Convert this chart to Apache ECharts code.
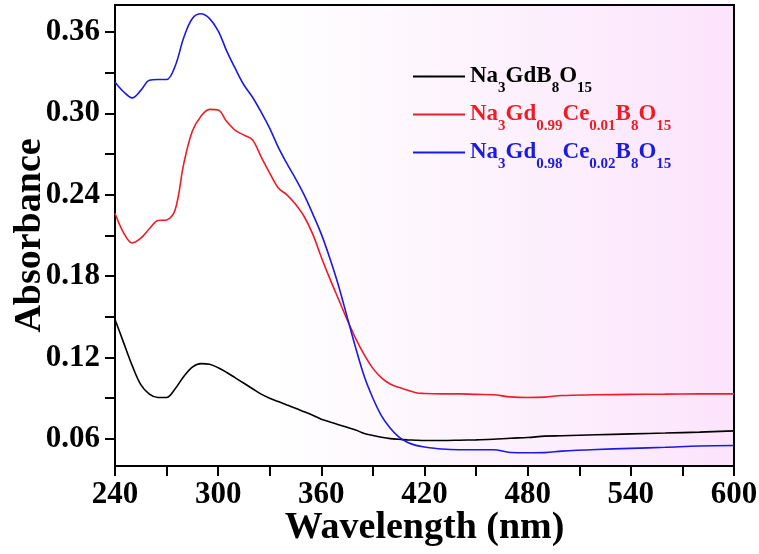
<!DOCTYPE html>
<html>
<head>
<meta charset="utf-8">
<script src="https://cdn.jsdelivr.net/npm/echarts@6/dist/echarts.min.js"></script>
<style>
  html, body { margin: 0; padding: 0; background: #fff; }
  #chart-container { width: 759px; height: 554px; }
</style>
</head>
<body>
<div id="chart-container"></div>
<script>
// wavelength (nm)
var wavelengths = [240, 245, 250, 255, 260, 265, 270, 275, 280, 285, 290, 295, 300, 305, 310, 315, 320, 325, 330, 335,
    340, 345, 350, 355, 360, 365, 370, 375, 380, 385, 390, 395, 400, 405, 410, 415, 420, 430, 440, 450,
    460, 470, 480, 490, 500, 520, 540, 560, 580, 600];

var absBase = [0.148, 0.131, 0.114, 0.100, 0.093, 0.0905, 0.0905, 0.097, 0.106, 0.113, 0.1155, 0.115, 0.1125, 0.109, 0.105, 0.101, 0.097, 0.093, 0.090, 0.0875,
    0.085, 0.0826, 0.080, 0.0775, 0.0745, 0.0725, 0.0705, 0.0685, 0.0665, 0.064, 0.0625, 0.0612, 0.0602, 0.0597, 0.0593, 0.059, 0.0588, 0.0588, 0.059, 0.0593,
    0.0597, 0.0605, 0.061, 0.062, 0.0623, 0.063, 0.0637, 0.0643, 0.065, 0.0659];

var absCe001 = [0.2264, 0.212, 0.2045, 0.208, 0.215, 0.221, 0.2214, 0.229, 0.263, 0.287, 0.298, 0.303, 0.3025, 0.294, 0.2875, 0.284, 0.2805, 0.268, 0.256, 0.245,
    0.240, 0.233, 0.224, 0.211, 0.194, 0.178, 0.163, 0.148, 0.134, 0.122, 0.112, 0.105, 0.1005, 0.098, 0.096, 0.094, 0.0935, 0.0932, 0.0932, 0.0928,
    0.0925, 0.091, 0.0905, 0.0908, 0.092, 0.0925, 0.0928, 0.093, 0.0932, 0.0932];

var absCe002 = [0.323, 0.316, 0.3115, 0.317, 0.3245, 0.325, 0.325, 0.335, 0.356, 0.370, 0.3735, 0.370, 0.361, 0.346, 0.333, 0.321, 0.312, 0.301, 0.289, 0.275,
    0.263, 0.252, 0.240, 0.226, 0.211, 0.193, 0.173, 0.150, 0.127, 0.106, 0.090, 0.077, 0.068, 0.0615, 0.0575, 0.0552, 0.054, 0.0525, 0.052, 0.052,
    0.052, 0.050, 0.0498, 0.0499, 0.051, 0.0522, 0.053, 0.0538, 0.0548, 0.0551];

var seriesNames = ['Na3GdB8O15', 'Na3Gd0.99Ce0.01B8O15', 'Na3Gd0.98Ce0.02B8O15'];
// legend labels as [text, subscript] pieces
var legendParts = [
    [['Na', '3'], ['GdB', '8'], ['O', '15']],
    [['Na', '3'], ['Gd', '0.99'], ['Ce', '0.01'], ['B', '8'], ['O', '15']],
    [['Na', '3'], ['Gd', '0.98'], ['Ce', '0.02'], ['B', '8'], ['O', '15']]
];
var seriesColors = ['#000000', '#ee1c24', '#1a1ae0'];

var xTicks = [240, 270, 300, 330, 360, 390, 420, 450, 480, 510, 540, 570, 600];
var xLabels = [240, 300, 360, 420, 480, 540, 600];
var yTicks = [0.06, 0.09, 0.12, 0.15, 0.18, 0.21, 0.24, 0.27, 0.30, 0.33, 0.36];
var yLabels = [0.06, 0.12, 0.18, 0.24, 0.30, 0.36];

var FONT = '"Liberation Serif", "Times New Roman", serif';

var myChart = echarts.init(document.getElementById('chart-container'));

var pairs = function (ys) {
    return wavelengths.map(function (w, i) { return [w, ys[i]]; });
};

// subscripts: normal text centred in a 37px line, subscript pushed to the line bottom
var rich = {};
seriesColors.forEach(function (c, i) {
    rich['n' + i] = {
        color: c, fontFamily: FONT, fontWeight: 'bold', fontSize: 23,
        lineHeight: 37, verticalAlign: 'middle'
    };
    rich['s' + i] = {
        color: c, fontFamily: FONT, fontWeight: 'bold', fontSize: 15,
        lineHeight: 37, height: 13, verticalAlign: 'bottom'
    };
});

var allData = [absBase, absCe001, absCe002];
var series = [];
allData.forEach(function (ys, i) {
    series.push({
        name: seriesNames[i],
        type: 'line',
        data: pairs(ys),
        symbol: 'none',
        smooth: 0.35,
        lineStyle: { color: seriesColors[i], width: 1.6 },
        itemStyle: { color: seriesColors[i] }
    });
});

var option = {
    animation: false,
    textStyle: { fontFamily: FONT },
    grid: {
        left: 115, right: 25, top: 5, bottom: 88,
        outerBoundsMode: 'none',
        containLabel: false,
        show: true,
        borderColor: '#000',
        borderWidth: 2,
        backgroundColor: new echarts.graphic.LinearGradient(0, 0, 1, 0, [
            { offset: 0, color: '#ffffff' },
            { offset: 0.25, color: '#ffffff' },
            { offset: 0.5, color: '#fdf6fd' },
            { offset: 1, color: '#fce4fc' }
        ])
    },
    legend: {
        orient: 'vertical',
        left: 408,
        top: 60,
        itemGap: 7,
        itemWidth: 52,
        itemHeight: 2,
        icon: 'rect',
        data: seriesNames,
        formatter: function (name) {
            var i = seriesNames.indexOf(name);
            return legendParts[i].map(function (p) {
                return '{n' + i + '|' + p[0] + '}{s' + i + '|' + p[1] + '}';
            }).join('');
        },
        textStyle: { fontFamily: FONT, fontWeight: 'bold', fontSize: 23, rich: rich }
    },
    xAxis: {
        type: 'value',
        min: 240, max: 600,
        name: 'Wavelength (nm)',
        nameLocation: 'middle',
        nameGap: 43,
        nameMoveOverlap: false,
        nameTextStyle: { fontFamily: FONT, fontWeight: 'bold', fontSize: 38, color: '#000' },
        axisLine: { onZero: false, lineStyle: { color: '#000', width: 2 } },
        axisTick: { show: true, length: 10, customValues: xTicks, lineStyle: { color: '#000', width: 2 } },
        axisLabel: {
            customValues: xLabels, margin: 13,
            fontFamily: FONT, fontWeight: 'bold', fontSize: 31, color: '#000'
        },
        splitLine: { show: false }
    },
    yAxis: {
        type: 'value',
        min: 0.04, max: 0.38,
        name: 'Absorbance',
        nameLocation: 'middle',
        nameGap: 66,
        nameMoveOverlap: false,
        nameTextStyle: { fontFamily: FONT, fontWeight: 'bold', fontSize: 38, color: '#000' },
        axisLine: { show: true, onZero: false, lineStyle: { color: '#000', width: 2 } },
        axisTick: { show: true, length: 10, customValues: yTicks, lineStyle: { color: '#000', width: 2 } },
        axisLabel: {
            customValues: yLabels, margin: 15,
            formatter: function (v) { return v.toFixed(2); },
            fontFamily: FONT, fontWeight: 'bold', fontSize: 31, color: '#000'
        },
        splitLine: { show: false }
    },
    series: series
};

myChart.setOption(option);
</script>
</body>
</html>
